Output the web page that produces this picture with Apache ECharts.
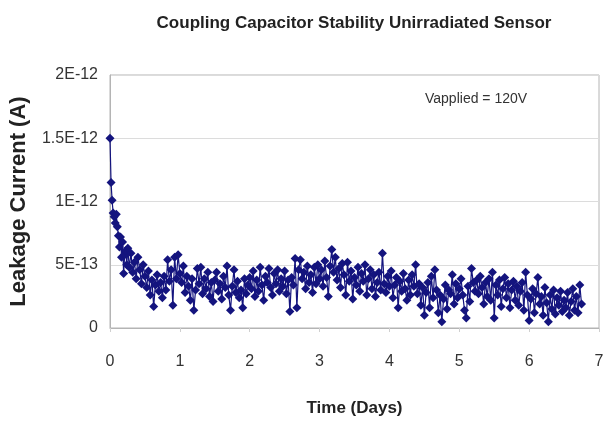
<!DOCTYPE html>
<html>
<head>
<meta charset="utf-8">
<script src="https://cdn.jsdelivr.net/npm/echarts@6/dist/echarts.min.js"></script>
<style>html,body{margin:0;padding:0;background:#fff;}#chart{width:603px;height:422px;}</style>
</head>
<body>
<div id="chart"></div>
<script>
// Time of each measurement (days)
const timeDays = [
0,0.015,0.03,0.045,0.06,0.075,0.09,0.105,0.12,0.135,0.15,0.165,0.18,0.195,0.21,0.225,0.24,0.255,
0.275,0.3,0.325,0.35,0.375,0.4,0.425,0.45,0.475,0.5,
0.525,0.55,0.575,0.6,0.625,0.65,0.675,0.7,0.725,0.75,
0.775,0.8,0.825,0.85,0.875,0.9,0.925,0.95,0.975,1.0,
1.025,1.05,1.075,1.1,1.125,1.15,1.175,1.2,1.225,1.25,
1.275,1.3,1.325,1.35,1.375,1.4,1.425,1.45,1.475,1.5,
1.525,1.55,1.575,1.6,1.625,1.65,1.675,1.7,1.725,1.75,
1.775,1.8,1.825,1.85,1.875,1.9,1.925,1.95,1.975,2.0,
2.025,2.05,2.075,2.1,2.125,2.15,2.175,2.2,2.225,2.25,
2.275,2.3,2.325,2.35,2.375,2.4,2.425,2.45,2.475,2.5,
2.525,2.55,2.575,2.6,2.625,2.65,2.675,2.7,2.725,2.75,
2.775,2.8,2.825,2.85,2.875,2.9,2.925,2.95,2.975,3.0,
3.025,3.05,3.075,3.1,3.125,3.15,3.175,3.2,3.225,3.25,
3.275,3.3,3.325,3.35,3.375,3.4,3.425,3.45,3.475,3.5,
3.525,3.55,3.575,3.6,3.625,3.65,3.675,3.7,3.725,3.75,
3.775,3.8,3.825,3.85,3.875,3.9,3.925,3.95,3.975,4.0,
4.025,4.05,4.075,4.1,4.125,4.15,4.175,4.2,4.225,4.25,
4.275,4.3,4.325,4.35,4.375,4.4,4.425,4.45,4.475,4.5,
4.525,4.55,4.575,4.6,4.625,4.65,4.675,4.7,4.725,4.75,
4.775,4.8,4.825,4.85,4.875,4.9,4.925,4.95,4.975,5.0,
5.025,5.05,5.075,5.1,5.125,5.15,5.175,5.2,5.225,5.25,
5.275,5.3,5.325,5.35,5.375,5.4,5.425,5.45,5.475,5.5,
5.525,5.55,5.575,5.6,5.625,5.65,5.675,5.7,5.725,5.75,
5.775,5.8,5.825,5.85,5.875,5.9,5.925,5.95,5.975,6.0,
6.025,6.05,6.075,6.1,6.125,6.15,6.175,6.2,6.225,6.25,
6.275,6.3,6.325,6.35,6.375,6.4,6.425,6.45,6.475,6.5,
6.525,6.55,6.575,6.6,6.625,6.65,6.675,6.7,6.725,6.75
];
// Leakage current in units of 1E-13 A
const leakageE13 = [
15,11.5,10.1,9.1,8.8,8.3,9.0,8.0,7.3,6.4,7.2,5.6,6.8,4.3,5.8,6.1,5.0,6.3,
4.8,5.9,4.4,5.2,3.9,5.6,4.6,3.5,5.0,4.1,
3.2,4.5,2.6,3.8,1.7,3.4,4.2,2.9,3.6,2.4,
4.1,3.0,5.4,3.7,4.6,1.8,5.6,3.9,5.8,4.3,
3.6,4.9,2.8,4.1,3.3,2.2,3.9,1.4,3.0,4.7,
3.5,4.8,2.7,3.9,3.1,4.4,2.5,3.6,2.1,3.8,
4.4,2.9,3.5,2.3,4.1,3.2,4.9,2.6,1.4,3.3,
4.6,2.8,3.7,2.4,3.0,1.6,3.9,2.7,3.4,4.0,
3.1,4.5,2.5,3.8,2.9,4.8,3.4,2.2,4.1,3.6,
4.7,3.2,2.6,4.3,3.5,4.6,2.9,3.9,3.3,4.5,
2.7,3.8,1.3,4.0,3.4,5.5,1.6,4.6,5.4,3.9,
4.4,3.1,4.9,3.6,4.2,2.8,4.8,3.5,5.0,3.9,
4.6,3.3,5.3,4.0,2.5,4.9,6.2,4.4,5.6,3.8,
4.7,3.2,5.1,4.2,2.6,5.2,3.7,4.5,2.3,4.0,
3.4,4.8,2.9,4.3,3.7,5.0,2.6,3.9,4.6,3.1,
4.2,2.5,3.6,4.4,3.0,5.9,3.5,2.8,4.1,3.3,
4.5,2.4,3.4,4.0,1.6,3.7,2.9,4.3,3.1,2.2,
3.8,2.6,4.2,3.3,5.0,2.7,3.5,1.8,3.2,1.0,
2.8,3.6,1.6,4.1,2.4,4.6,3.0,1.2,2.6,0.5,
2.3,3.4,1.5,3.0,2.7,4.2,1.9,3.5,2.4,3.1,
3.9,2.6,1.4,0.8,3.3,2.1,4.7,3.6,2.9,3.8,
2.7,4.1,3.2,1.9,3.6,2.5,3.9,2.2,4.4,0.8,
3.4,2.6,3.8,1.7,3.1,4.0,2.4,3.5,1.6,3.0,
3.7,2.2,3.3,1.8,2.9,3.6,1.4,4.4,2.6,0.6,
2.3,3.1,1.2,2.7,4.0,1.9,2.5,1.0,3.2,2.0,
0.5,2.6,1.5,3.0,1.1,2.4,1.8,2.9,1.3,2.2,
1.6,2.8,1.0,2.1,3.1,1.4,2.5,1.2,3.4,1.9
];
const yTickLabels = ['0', '5E-13', '1E-12', '1.5E-12', '2E-12'];
const xTickLabels = ['0', '1', '2', '3', '4', '5', '6', '7'];

const seriesData = timeDays.map((t, i) => [t, leakageE13[i]]);
const navy = '#14147e';
const font = '"Liberation Sans", Arial, sans-serif';

const chart = echarts.init(document.getElementById('chart'), null, {renderer: 'canvas'});
chart.setOption({
  animation: false,
  backgroundColor: '#ffffff',
  title: {
    text: 'Coupling Capacitor Stability Unirradiated Sensor',
    left: 349, top: 10, textAlign: 'center',
    textStyle: {fontFamily: font, fontWeight: 'bold', fontSize: 17, color: '#222'}
  },
  grid: {left: 110, right: 4, top: 75, bottom: 94, outerBoundsMode: 'none', containLabel: false,
    show: true, borderColor: '#b4b4b4', borderWidth: 1, backgroundColor: 'transparent'},
  xAxis: {
    type: 'value', min: 0, max: 7, interval: 1,
    name: 'Time (Days)', nameLocation: 'middle', nameGap: 72,
    nameTextStyle: {fontFamily: font, fontWeight: 'bold', fontSize: 17, color: '#222'},
    axisLine: {show: true, lineStyle: {color: '#b4b4b4'}},
    axisTick: {show: true, length: 4, lineStyle: {color: '#d0d0d0'}},
    splitLine: {show: false},
    axisLabel: {margin: 26, fontFamily: font, fontSize: 16, color: '#333',
      formatter: v => xTickLabels[Math.round(v)]}
  },
  yAxis: {
    type: 'value', min: 0, max: 20, interval: 5,
    name: 'Leakage Current (A)', nameLocation: 'middle', nameGap: 80, nameRotate: 90,
    nameTextStyle: {fontFamily: font, fontWeight: 'bold', fontSize: 22, color: '#222'},
    axisLine: {show: true, lineStyle: {color: '#b4b4b4'}},
    axisTick: {show: false},
    splitLine: {show: true, lineStyle: {color: '#dcdcdc'}},
    axisLabel: {margin: 12, fontFamily: font, fontSize: 16, color: '#333',
      formatter: v => yTickLabels[Math.round(v / 5)]}
  },
  graphic: [{
    type: 'text', left: 425, top: 92,
    style: {text: 'Vapplied = 120V', fontFamily: font, fontSize: 14, fill: '#333'}
  }],
  series: [{
    type: 'line',
    data: seriesData,
    symbol: 'diamond', symbolSize: 9,
    itemStyle: {color: navy},
    lineStyle: {color: navy, width: 1.2},
    z: 3
  }]
});
</script>
</body>
</html>
